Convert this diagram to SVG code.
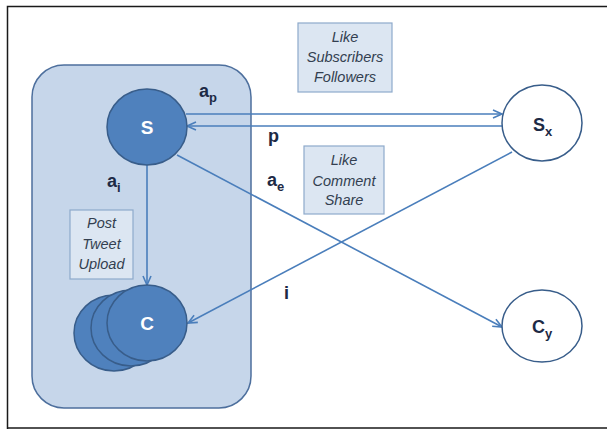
<svg xmlns="http://www.w3.org/2000/svg" width="607" height="429" viewBox="0 0 607 429">
  <style>
    .lbl { font-family: "Liberation Sans", Arial, sans-serif; font-weight: bold; font-size: 18px; fill: #1d2a45; }
    .sub { font-size: 13px; }
    .node-in { fill: #4f81bd; stroke: #385d8a; stroke-width: 1.5; }
    .node-out { fill: #ffffff; stroke: #385d8a; stroke-width: 1.5; }
    .white { font-family: "Liberation Sans", Arial, sans-serif; font-weight: bold; font-size: 19px; fill: #ffffff; }
    .note rect { fill: #dce6f2; stroke: #8eaacb; stroke-width: 1.2; }
    .note text { font-family: "Liberation Sans", Arial, sans-serif; font-style: italic; font-size: 14.5px; fill: #333f50; text-anchor: middle; }
    .edge { stroke: #4a7ebb; stroke-width: 1.6; fill: none; marker-end: url(#arr); }
  </style>
  <defs>
    <marker id="arr" markerUnits="userSpaceOnUse" markerWidth="12" markerHeight="12" refX="10" refY="5" orient="auto">
      <path d="M1,1 L10,5 L1,9" fill="none" stroke="#4a7ebb" stroke-width="1.6"/>
    </marker>
  </defs>

  <!-- page frame -->
  <rect x="0" y="0" width="607" height="429" fill="#ffffff"/>
  <path d="M7.5,429 V6.5 H607 M7,428 H607" fill="none" stroke="#1a1a1a" stroke-width="1.5"/>

  <!-- local community container -->
  <g id="community">
    <rect x="32" y="65" width="219" height="343" rx="32" ry="32" fill="#c6d6ea" stroke="#4d6f9d" stroke-width="1.5"/>
  </g>

  <!-- annotation boxes -->
  <g id="note-post" class="note">
    <rect x="70" y="210" width="63" height="69"/>
    <text x="101.5" y="228">Post</text>
    <text x="101.5" y="249">Tweet</text>
    <text x="101.5" y="269">Upload</text>
  </g>
  <g id="note-subscribe" class="note">
    <rect x="298" y="23" width="94" height="69"/>
    <text x="345" y="42">Like</text>
    <text x="345" y="62">Subscribers</text>
    <text x="345" y="82">Followers</text>
  </g>
  <g id="note-engage" class="note">
    <rect x="304" y="146" width="80" height="68"/>
    <text x="344" y="165">Like</text>
    <text x="344" y="186">Comment</text>
    <text x="344" y="205">Share</text>
  </g>

  <!-- connectors -->
  <g id="connectors">
    <line class="edge" x1="186" y1="114" x2="502" y2="114"/>
    <line class="edge" x1="502" y1="126" x2="187" y2="126"/>
    <line class="edge" x1="147" y1="165" x2="147" y2="285"/>
    <line class="edge" x1="177" y1="155" x2="502" y2="327"/>
    <line class="edge" x1="512" y1="152" x2="188" y2="323"/>
  </g>

  <!-- nodes -->
  <g id="node-S">
    <ellipse class="node-in" cx="147" cy="127" rx="40" ry="38"/>
    <text class="white" x="147" y="134" text-anchor="middle">S</text>
  </g>
  <g id="node-C">
    <ellipse class="node-in" cx="114" cy="333" rx="40" ry="38"/>
    <ellipse class="node-in" cx="131" cy="328" rx="40" ry="38"/>
    <ellipse class="node-in" cx="147" cy="323" rx="40" ry="38"/>
    <text class="white" x="147" y="330" text-anchor="middle">C</text>
  </g>
  <g id="node-Sx">
    <ellipse class="node-out" cx="542" cy="123" rx="40" ry="38"/>
    <text class="lbl" x="533" y="131" font-size="19">S<tspan class="sub" dy="5">x</tspan></text>
  </g>
  <g id="node-Cy">
    <ellipse class="node-out" cx="542" cy="326" rx="40" ry="36"/>
    <text class="lbl" x="532" y="333" font-size="19">C<tspan class="sub" dy="5">y</tspan></text>
  </g>

  <!-- edge labels -->
  <g id="labels">
    <text class="lbl" x="199" y="97">a<tspan class="sub" dy="5">p</tspan></text>
    <text class="lbl" x="268" y="142">p</text>
    <text class="lbl" x="267" y="186">a<tspan class="sub" dy="5">e</tspan></text>
    <text class="lbl" x="107" y="187">a<tspan class="sub" dy="5">i</tspan></text>
    <text class="lbl" x="284" y="299">i</text>
  </g>
</svg>
